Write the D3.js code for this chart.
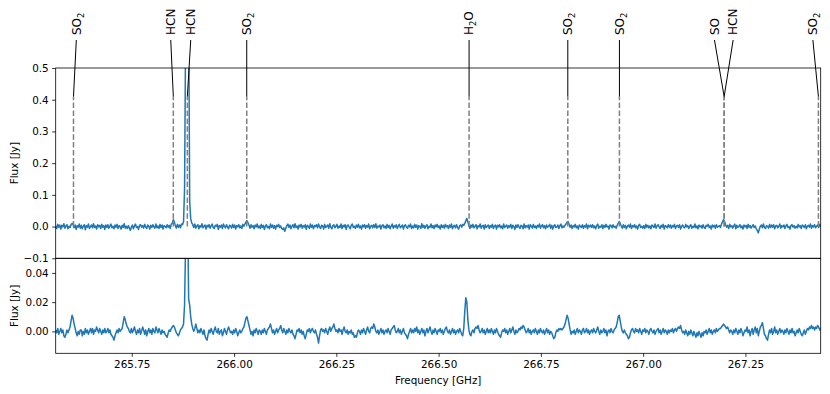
<!DOCTYPE html>
<html><head><meta charset="utf-8">
<script src="https://cdn.jsdelivr.net/npm/d3@7"></script>
<style>body{margin:0;background:#fff} text{font-family:"DejaVu Sans",sans-serif}</style>
</head><body><svg id="c" width="830" height="394"></svg>
<script>
// channel grid (GHz)
const freqStart = 265.564;
const freqStep = 0.0025;
// upper spectrum, mJy per channel
const fluxTop = [
 3,-6,7,-2,5,-8,4,-1,9,-5,2,6,-7,1,-3,6,10,7,-4,5,-9,3,-2,8,-5,
 4,-7,1,6,-10,3,-2,8,-6,0,5,-4,9,-3,2,-8,6,-1,4,-6,7,-2,3,-9,5,
 -3,6,-5,2,8,-4,1,-7,5,-2,7,-6,3,0,-8,4,-3,9,-5,1,-6,3,-4,-12,-2,
 5,-7,2,8,-3,0,-9,4,6,-2,3,-5,7,-1,-6,5,2,-8,4,-3,6,-1,-5,8,-4,
 2,-6,7,-3,5,-8,3,1,-4,6,-2,4,-6,8,10,22,14,3,-5,7,-2,5,-4,8,6,
 15,120,600,1000,900,700,80,25,12,6,-3,8,-5,2,6,-7,3,-2,9,-4,1,5,-8,4,-1,
 6,-5,2,8,-3,-6,4,1,7,-9,3,-2,5,-6,8,0,-4,6,-1,-7,4,2,-5,7,-3,
 5,-8,3,-1,6,-4,2,-6,7,1,8,14,19,12,4,-5,6,-2,3,-7,5,-1,8,-4,2,
 -6,7,-3,4,-9,2,6,-4,1,-7,8,-2,5,-5,3,-8,4,0,7,-3,2,-6,-9,-4,-15,
 -5,3,8,-2,5,-7,1,6,-4,9,-3,2,-8,5,-1,7,-5,3,-2,6,-9,4,1,-6,8,
 -2,5,-7,3,0,6,-4,8,-1,-6,4,2,-8,7,-3,1,5,-5,9,-2,-7,3,6,-4,1,
 7,-5,2,-3,8,-6,4,-1,6,-9,3,5,-2,-7,4,8,-3,1,-6,5,-2,7,-4,2,-8,
 5,-1,6,-5,3,-2,8,-7,1,4,-4,6,-3,9,-5,2,-1,5,-8,3,6,-4,2,-6,7,
 -3,4,-7,1,8,-5,3,-2,6,-6,2,7,-4,0,5,-8,3,6,-2,-5,4,-1,8,-6,2,
 -4,7,-2,5,-8,3,1,-6,9,-3,4,-5,2,6,-7,1,-2,8,-4,3,-6,5,-1,7,-3,
 2,-8,6,-3,4,-5,7,-1,3,-6,5,-2,8,-7,1,4,-4,6,-3,-8,3,5,-2,7,4,
 10,18,26,15,3,-6,5,-2,7,-4,1,6,-7,3,-1,8,-5,2,4,-8,6,-3,1,5,-6,
 3,-2,7,-6,2,5,-8,4,-1,6,-4,2,-7,8,-3,1,5,-5,3,-2,7,-6,4,0,-9,
 5,-3,6,-1,-6,4,2,-7,8,-4,3,-2,5,-8,6,1,-5,7,-3,2,-6,4,-1,8,-5,
 2,6,-4,3,-7,5,-2,1,7,-5,4,-8,2,6,-3,-1,5,-6,3,8,-4,2,-2,4,8,
 14,16,7,-2,5,-6,3,-1,7,-4,2,-8,5,1,-3,6,-5,3,-2,8,-7,4,-1,5,-3,
 6,-4,2,-7,3,8,-5,1,-2,6,-6,4,-3,7,-1,2,-8,5,3,-4,6,-2,1,-5,4,
 10,16,10,2,-5,6,-3,4,-7,1,5,-2,8,-6,3,-1,6,-4,2,-8,4,7,-3,1,-5,
 3,-6,7,-2,4,-4,2,-7,5,1,-3,8,-5,2,6,-1,-6,4,-2,7,-8,3,1,-4,6,
 -2,5,-5,3,-1,7,-6,2,4,-3,6,-8,1,5,-2,-4,7,-1,3,-6,2,6,-5,1,-3,
 8,-4,2,-7,5,-1,3,-5,6,-2,-6,4,1,7,-3,2,-8,5,-1,4,-5,6,-2,1,3,
 -3,8,15,22,16,6,-2,4,-6,7,-1,3,-5,2,8,-7,4,-3,1,6,-4,2,-8,5,-1,
 4,-6,7,-2,3,-5,1,6,-3,2,-7,-12,-20,-8,1,5,-4,8,-2,-6,3,1,-5,7,-3,
 5,-2,6,-7,2,4,-4,1,8,-5,3,-1,5,-6,2,7,-3,0,-8,4,6,-2,3,-5,1,
 -4,7,-1,3,-6,5,2,-3,6,-7,1,4,-2,8,-5,3,-1,6,-4,2,5,-3,7,1,4
];
// lower spectrum, mJy per channel
const fluxBottom = [
 1,-1,2,-2,0,2,-1,1,-3,-4,-2,1,-1,1,3,7,11,9,5,2,-1,-3,0,-2,1,
 1,-3,0,-2,2,-1,1,-2,0,2,-1,2,-2,1,0,3,1,-1,2,0,-2,1,-1,2,-1,
 0,2,-1,1,-2,-3,-4,-6,-3,-1,1,-1,2,0,1,2,6,10,8,5,3,2,0,-1,2,
 -1,1,3,0,-2,1,-1,2,-2,0,3,1,-2,1,-3,0,2,-1,1,-2,2,0,-1,3,1,
 -1,2,0,-2,1,-1,0,-2,-3,-4,-1,1,0,2,3,4,3,1,-1,-2,-3,-1,1,2,3,
 5,18,60,140,80,22,18,10,5,2,0,2,5,2,-1,1,-1,2,0,-2,1,-3,-5,-6,-2,
 1,-1,2,0,-2,1,3,0,-1,2,-2,0,1,-3,-1,2,0,-2,1,3,1,-1,0,-2,1,
 -1,2,0,-3,-1,1,-1,0,2,3,6,9,10,7,4,1,-2,0,-3,1,-1,2,0,-2,1,
 0,-2,1,-1,2,0,-2,1,2,3,5,2,-1,1,-2,0,2,-1,1,2,4,1,-1,2,0,
 -2,1,-1,2,0,-1,1,-2,-3,-5,-2,1,0,2,-1,1,-2,0,-3,-5,-2,1,0,2,-1,
 1,2,0,-1,1,-2,-4,-8,-3,1,2,0,1,-1,2,0,-2,1,3,0,2,3,5,2,0,
 1,-1,2,0,1,-2,1,3,0,-1,1,-2,0,-1,1,-2,-1,-4,-3,-4,-1,1,0,-2,1,
 -1,2,0,-2,1,3,0,-1,2,3,2,5,3,0,-1,1,-2,0,2,-1,1,-2,0,1,-1,
 2,0,-2,1,2,3,4,1,-1,0,2,-1,1,-2,0,2,-1,-2,-3,-5,-2,0,2,-1,1,
 -1,2,0,3,-1,1,-2,0,2,-1,1,-3,0,2,-1,1,3,0,-2,1,-1,2,0,-2,1,
 0,2,-1,1,-2,0,2,3,0,-1,1,-2,0,2,-1,1,-2,0,1,-1,2,0,-2,-3,2,
 14,23,20,8,1,-2,-3,0,1,-1,2,3,2,4,1,-1,0,2,-1,1,-2,0,2,-1,1,
 -1,2,0,-2,1,-1,2,0,-2,-3,-4,-1,1,0,2,-1,1,-2,0,2,-1,1,3,0,-2,
 1,-1,0,2,1,3,2,4,3,1,-1,0,2,-1,1,-2,0,1,-1,2,0,-2,1,-1,2,
 0,-1,1,-2,0,2,-1,1,-2,0,-1,-3,-5,-4,-1,1,0,2,1,2,1,2,3,5,8,
 11,9,5,1,-2,0,-1,1,-2,0,2,-1,1,0,-2,1,2,-1,0,2,-1,1,-2,0,1,
 -1,2,0,-1,1,3,0,-2,1,-1,0,2,-1,1,-3,0,1,-1,2,0,-1,1,2,3,6,
 10,11,7,3,0,-1,1,-1,-2,-3,-5,-4,-1,1,2,0,-1,2,0,1,-1,2,0,-2,1,
 0,2,-1,1,0,-2,1,2,0,-1,1,-2,0,1,2,-1,1,-2,0,2,-1,1,0,-2,1,
 -1,1,0,2,-1,1,2,0,2,3,2,4,1,-1,0,-2,1,-1,-3,0,-2,1,-1,-3,0,
 -2,-4,-1,-3,0,-2,-4,-1,-3,0,-1,1,-2,0,2,-1,1,-2,0,1,-1,2,0,1,2,
 2,3,4,5,4,3,2,3,1,-1,1,0,-2,1,-1,2,0,-2,1,-1,2,0,-3,-1,1,
 0,3,-1,1,-3,0,2,-2,1,3,-1,2,-3,0,3,4,6,2,-2,-3,-5,-6,-2,1,-1,
 2,-2,0,3,-1,1,-2,0,2,-1,1,0,-2,1,-1,2,0,-2,1,-1,2,-1,0,-3,-1,
 1,-1,2,0,-2,-3,-1,1,-2,0,2,1,3,2,4,2,3,1,3,2,4,3,1,2,0
];
// line identifications
const lineNames  = ["SO2","HCN","HCN","SO2","H2O","SO2","SO2","SO","HCN","SO2"];
const lineFreqs  = [265.6075,265.8515,265.8858,266.031,266.5745,266.8158,266.942,267.198,267.198,267.4284];
const labelFreqs = [265.6144,265.8452,265.8941,266.031,266.5745,266.8158,266.942,267.1743,267.2200,267.4149];
const lineMarkTop = 0.41;
// axes
const freqDomain = [265.564, 267.434];
const topYDomain = [-0.1, 0.5];
const bottomYDomain = [-0.015, 0.05];
const topYTicks = [-0.1,0.0,0.1,0.2,0.3,0.4,0.5];
const bottomYTicks = [0.00,0.02,0.04];
const xTicks = [265.75,266.00,266.25,266.50,266.75,267.00,267.25];

const svg = d3.select("#c");
const L = 55.7, R = 820.7, T1 = 68, B1 = 258.3, B2 = 353.3;
const x = d3.scaleLinear().domain(freqDomain).range([L, R]);
const yT = d3.scaleLinear().domain(topYDomain).range([B1, T1]);
const yB = d3.scaleLinear().domain(bottomYDomain).range([B2, B1]);
const FS = 10.4;

const defs = svg.append("defs");
defs.append("clipPath").attr("id","clipT").append("rect").attr("x",L).attr("y",T1).attr("width",R-L).attr("height",B1-T1);
defs.append("clipPath").attr("id","clipB").append("rect").attr("x",L).attr("y",B1).attr("width",R-L).attr("height",B2-B1);

const topData = fluxTop.map((v,i)=>({f:freqStart+i*freqStep, v:v/1000}));
const botData = fluxBottom.map((v,i)=>({f:freqStart+i*freqStep, v:v/1000}));

svg.append("path").datum(topData).attr("clip-path","url(#clipT)")
  .attr("d", d3.line().x(d=>x(d.f)).y(d=>yT(d.v)))
  .attr("fill","none").attr("stroke","#1f77b4").attr("stroke-width",1.5).attr("stroke-linejoin","round");
svg.append("path").datum(botData).attr("clip-path","url(#clipB)")
  .attr("d", d3.line().x(d=>x(d.f)).y(d=>yB(d.v)))
  .attr("fill","none").attr("stroke","#1f77b4").attr("stroke-width",1.5).attr("stroke-linejoin","round");

// dashed markers
svg.append("g").selectAll("line").data(lineFreqs).join("line")
  .attr("x1",d=>x(d)).attr("x2",d=>x(d)).attr("y1",yT(0)).attr("y2",yT(lineMarkTop))
  .attr("stroke","#808080").attr("stroke-width",1.5).attr("stroke-dasharray","5.5,2.4");

// leader lines
const labTop = 40;
svg.append("g").selectAll("line").data(lineFreqs).join("line")
  .attr("x1",(d)=>x(d)).attr("y1",yT(lineMarkTop))
  .attr("x2",(d,i)=>x(labelFreqs[i])).attr("y2",labTop)
  .attr("stroke","#000").attr("stroke-width",1);

// labels
lineNames.forEach((name,i)=>{
  const t = svg.append("text")
    .attr("transform",`translate(${x(labelFreqs[i])},${labTop-5}) rotate(-90)`)
    .attr("dy","0.36em").attr("font-size",12).attr("fill","#000");
  const parts = name.match(/(\d+|\D+)/g);
  let shifted = false;
  parts.forEach(p=>{
    const ts = t.append("tspan").text(p);
    if (/\d/.test(p)) { ts.attr("font-size",8.4).attr("dy",3); shifted = true; }
    else if (shifted) { ts.attr("dy",-3); shifted = false; }
  });
});

function styleAxis(g){
  g.select(".domain").remove();
  g.selectAll(".tick line").attr("stroke","#000").attr("stroke-width",0.8);
  g.selectAll(".tick text").attr("font-size",FS).attr("fill","#000").attr("font-family","DejaVu Sans");
}
svg.append("g").attr("transform",`translate(${L},0)`)
  .call(d3.axisLeft(yT).tickValues(topYTicks).tickSize(3.5).tickPadding(3.5).tickFormat(d3.format(".1f"))).call(styleAxis);
svg.append("g").attr("transform",`translate(${L},0)`)
  .call(d3.axisLeft(yB).tickValues(bottomYTicks).tickSize(3.5).tickPadding(3.5).tickFormat(d3.format(".2f"))).call(styleAxis);
svg.append("g").attr("transform",`translate(0,${B2})`)
  .call(d3.axisBottom(x).tickValues(xTicks).tickSize(3.5).tickPadding(3.5).tickFormat(d3.format(".2f"))).call(styleAxis);

// spines
[[T1,B1],[B1,B2]].forEach(([a,b])=>{
  svg.append("rect").attr("x",L).attr("y",a).attr("width",R-L).attr("height",b-a)
    .attr("fill","none").attr("stroke","#000").attr("stroke-width",0.8);
});

// axis titles
svg.append("text").attr("transform",`translate(14,${(T1+B1)/2}) rotate(-90)`).attr("text-anchor","middle")
  .attr("dy","0.35em").attr("font-size",FS).text("Flux [Jy]");
svg.append("text").attr("transform",`translate(14,${(B1+B2)/2}) rotate(-90)`).attr("text-anchor","middle")
  .attr("dy","0.35em").attr("font-size",FS).text("Flux [Jy]");
svg.append("text").attr("x",(L+R)/2).attr("y",384).attr("text-anchor","middle")
  .attr("font-size",FS).text("Frequency [GHz]");
</script></body></html>
